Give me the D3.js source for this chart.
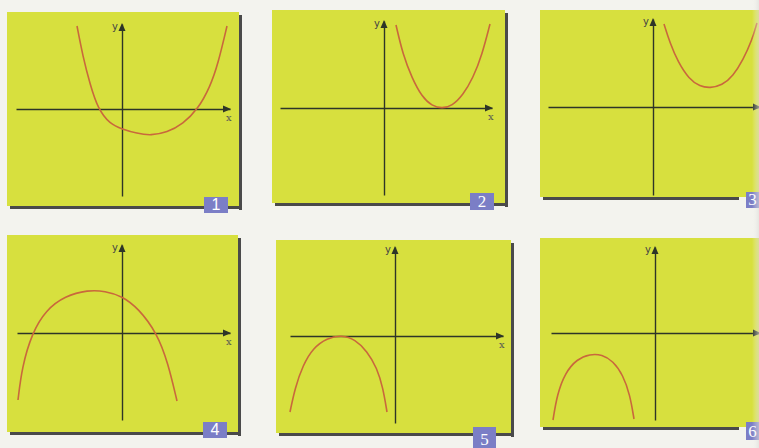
<!DOCTYPE html>
<html>
<head>
<meta charset="utf-8">
<script src="https://cdn.jsdelivr.net/npm/d3@7"></script>
<style>
html,body{margin:0;padding:0;background:#f3f3ee;}
svg{display:block;}
</style>
</head>
<body>
<svg id="chart" width="759" height="448"></svg>
<script>
// ---------- data (units: axes cross at 0,0) ----------
const panelNames = ["1", "2", "3", "4", "5", "6"];
const curve1 = [[-4.5,8.3],[-3.9,5.2],[-3.2,2.5],[-2.4,0],[-1.2,-1.5],[0,-2.0],[1.5,-2.45],[2.9,-2.65],[4.5,-2.35],[6.1,-1.5],[7.6,0],[8.8,2.2],[9.6,4.5],[10.5,8.3]];
const curve2 = [[1.2,8.3],[1.9,5.3],[2.8,3.0],[3.8,1.1],[4.8,0.2],[5.8,-0.05],[6.8,0.2],[7.9,1.3],[8.9,3.0],[9.8,5.3],[10.6,8.4]];
const curve3 = [[1.1,8.3],[1.7,6.4],[2.5,4.5],[3.6,2.8],[4.7,2.05],[5.7,1.9],[6.9,2.15],[8.0,3.1],[9.0,4.7],[9.9,6.7],[10.4,8.4]];
const curve4 = [[-10.4,-6.7],[-10.0,-3.4],[-9.0,0],[-7.6,2.3],[-5.7,3.7],[-3.4,4.3],[-1.7,4.2],[0,3.7],[1.6,2.5],[3.5,0],[4.6,-3.0],[5.5,-6.8]];
const curve5 = [[-10.5,-7.6],[-10.0,-5.2],[-9.2,-2.9],[-8.2,-1.2],[-6.8,-0.2],[-5.3,0.1],[-4.0,-0.35],[-2.8,-1.5],[-1.8,-3.2],[-1.2,-5.2],[-0.8,-7.6]];
const curve6 = [[-10.2,-8.7],[-9.8,-6.2],[-9.0,-4.0],[-7.8,-2.6],[-6.5,-2.1],[-5.3,-2.15],[-4.2,-2.8],[-3.2,-4.2],[-2.5,-6.2],[-2.1,-8.6]];
const curves = [curve1, curve2, curve3, curve4, curve5, curve6];
const axisLabels = ["x", "y"];

// ---------- layout ----------
const unit = 10;
const layout = [
  {rect:[7,12,239,206],   o:[122,109], xd:[-10.6,10.8], yd:[-8.7,8.5], badge:[204,197,24,16], serif:false, shR:true,  xl:true},
  {rect:[272,10,505,203], o:[384,108], xd:[-10.4,10.8], yd:[-8.7,8.7], badge:[470,193,24,17], serif:true,  shR:true,  xl:true},
  {rect:[540,10,759,197], o:[653,107], xd:[-10.5,10.7], yd:[-8.8,8.8], badge:[746,192,13,16], serif:true,  shR:false, xl:false},
  {rect:[7,235,238,432],  o:[122,333], xd:[-10.5,10.8], yd:[-8.7,8.8], badge:[203,422,24,16], serif:false, shR:true,  xl:true},
  {rect:[276,240,511,433],o:[395,336], xd:[-10.5,10.8], yd:[-8.7,8.9], badge:[473,427,23,21], serif:true,  shR:true,  xl:true},
  {rect:[540,238,759,427],o:[655,333], xd:[-10.4,10.5], yd:[-8.7,8.6], badge:[746,422,13,18], serif:true,  shR:false, xl:false}
];

const svg = d3.select("#chart");
const yellow = "#d7e03e", curveColor = "#c9683c", axisColor = "#2e3528", badgeColor = "#7b7ec6";

layout.forEach((p, i) => {
  const [x0, y0, x1, y1] = p.rect;
  const g = svg.append("g");
  // shadow
  if (p.shR) g.append("rect").attr("x", x1).attr("y", y0 + 3).attr("width", 3).attr("height", y1 - y0 + 1).attr("fill", "#4a4a4a");
  g.append("rect").attr("x", x0 + 3).attr("y", y1).attr("width", (p.shR ? x1 + 3 : x1 - 20) - x0 - 3).attr("height", 3).attr("fill", "#4a4a4a");
  g.append("rect").attr("x", x0).attr("y", y0).attr("width", x1 - x0).attr("height", y1 - y0).attr("fill", yellow);

  const x = d3.scaleLinear().domain(p.xd).range([p.o[0] + p.xd[0] * unit, p.o[0] + p.xd[1] * unit]);
  const y = d3.scaleLinear().domain(p.yd).range([p.o[1] - p.yd[0] * unit, p.o[1] - p.yd[1] * unit]);

  // axes
  const xa = g.append("g").attr("transform", `translate(0,${y(0)})`).call(d3.axisBottom(x).tickValues([]).tickSizeOuter(0));
  const ya = g.append("g").attr("transform", `translate(${x(0)},0)`).call(d3.axisLeft(y).tickValues([]).tickSizeOuter(0));
  [xa, ya].forEach(a => a.select(".domain").attr("stroke", axisColor).attr("stroke-width", 1.4));

  // arrowheads
  const xe = x(p.xd[1]), ye = y(p.yd[1]);
  g.append("path").attr("d", `M${xe + 1},${y(0)} L${xe - 7},${y(0) - 3.5} L${xe - 7},${y(0) + 3.5} Z`).attr("fill", axisColor);
  g.append("path").attr("d", `M${x(0)},${ye - 1} L${x(0) - 3.5},${ye + 7} L${x(0) + 3.5},${ye + 7} Z`).attr("fill", axisColor);

  // axis labels
  if (p.xl) g.append("text").attr("x", xe - 4).attr("y", y(0) + 12).attr("font-family", "DejaVu Serif, serif").attr("font-size", 10).attr("fill", "#555").text(axisLabels[0]);
  g.append("text").attr("x", x(0) - 10).attr("y", ye + 6).attr("font-family", "DejaVu Sans, sans-serif").attr("font-size", 10).attr("fill", "#444").text(axisLabels[1]);

  // curve
  g.append("path").datum(curves[i])
    .attr("d", d3.line().x(d => x(d[0])).y(d => y(d[1])).curve(d3.curveBasis))
    .attr("fill", "none").attr("stroke", curveColor).attr("stroke-width", 1.6);

  // badge
  const [bx, by, bw, bh] = p.badge;
  g.append("rect").attr("x", bx).attr("y", by).attr("width", bw).attr("height", bh).attr("fill", badgeColor);
  g.append("text").attr("x", bx + bw / 2).attr("y", by + bh - 3).attr("text-anchor", "middle")
    .attr("font-family", p.serif ? "Liberation Serif, serif" : "Liberation Sans, sans-serif")
    .attr("font-size", p.serif ? 17 : 16).attr("fill", "#ffffff").text(panelNames[i]);
});

// right page-gutter strip
const grad = svg.append("defs").append("linearGradient").attr("id", "gut").attr("x1", 0).attr("x2", 1);
grad.append("stop").attr("offset", 0).attr("stop-color", "#f3f3ee").attr("stop-opacity", 0);
grad.append("stop").attr("offset", 1).attr("stop-color", "#dcdcd8").attr("stop-opacity", 0.6);
svg.append("rect").attr("x", 752).attr("y", 0).attr("width", 7).attr("height", 448).attr("fill", "url(#gut)");
</script>
</body>
</html>
